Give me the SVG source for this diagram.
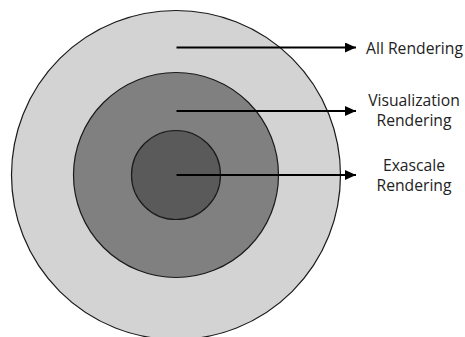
<svg xmlns="http://www.w3.org/2000/svg" width="465" height="337" viewBox="0 0 465 337">
<defs>
<marker id="ah" markerWidth="12" markerHeight="10" refX="11" refY="5" orient="auto" markerUnits="userSpaceOnUse">
<path d="M0,0 L11,5 L0,10 Z" fill="#000"/>
</marker>
<style>
.c{stroke:#1a1a1a;stroke-width:1.2}
.a{stroke:#000;stroke-width:2;fill:none}
.t{font-family:"Open Sans","Liberation Sans",sans-serif;font-size:15.7px;fill:#222;text-anchor:middle}
</style>
</defs>
<rect width="465" height="337" fill="#fff"/>
<g id="outer"><circle class="c" cx="176" cy="175" r="164.5" fill="#d3d3d3"/></g>
<g id="middle"><circle class="c" cx="176" cy="175" r="102.5" fill="#808080"/></g>
<g id="inner"><circle class="c" cx="176" cy="175" r="44.5" fill="#5a5a5a"/></g>
<g id="connectors">
<line class="a" x1="176.5" y1="47.5" x2="356" y2="47.5" marker-end="url(#ah)"/>
<line class="a" x1="176.5" y1="111" x2="356" y2="111" marker-end="url(#ah)"/>
<line class="a" x1="176.5" y1="175" x2="356" y2="175" marker-end="url(#ah)"/>
</g>
<g id="label-all"><text class="t" x="414.5" y="53.5">All Rendering</text></g>
<g id="label-vis"><text class="t" x="414" y="105.5">Visualization</text><text class="t" x="414" y="125.5">Rendering</text></g>
<g id="label-exa"><text class="t" x="414" y="170.5">Exascale</text><text class="t" x="414" y="190.5">Rendering</text></g>
</svg>
